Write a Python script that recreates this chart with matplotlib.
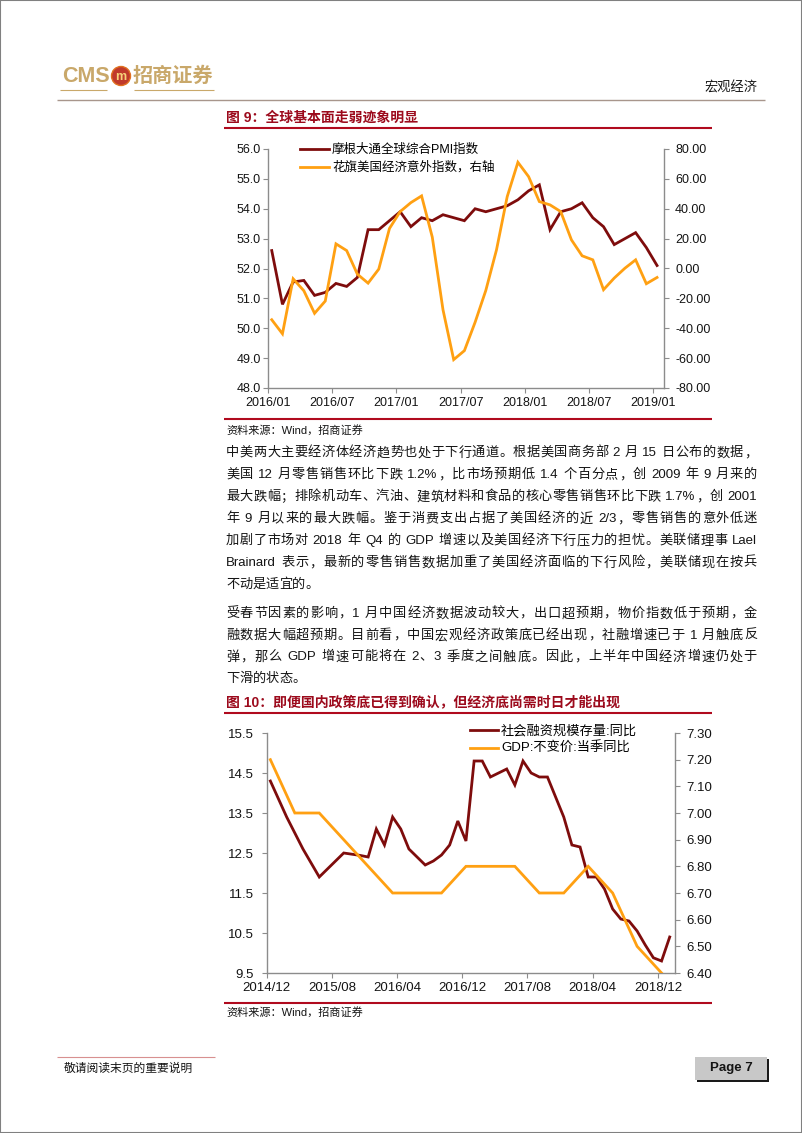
import re
import matplotlib
matplotlib.use('Agg')
import matplotlib.pyplot as plt
from matplotlib.lines import Line2D
from matplotlib.patches import Rectangle, Ellipse
from matplotlib.ticker import FormatStrFormatter, FixedLocator

# ---------------- data ----------------
pmi_labels = ['2016/01', '2016/07', '2017/01', '2017/07', '2018/01', '2018/07', '2019/01']
pmi = [52.6, 50.8, 51.55, 51.6, 51.1, 51.2, 51.5, 51.4, 51.7, 53.3, 53.3, 53.6, 53.9,
       53.4, 53.7, 53.6, 53.8, 53.7, 53.6, 54.0, 53.9, 54.0, 54.1, 54.3, 54.6, 54.8,
       53.3, 53.9, 54.0, 54.2, 53.7, 53.4, 52.8, 53.0, 53.2, 52.7, 52.1]
citi = [-34.3, -43.7, -6.9, -14.9, -30.0, -21.8, 16.5, 12.0, -3.8, -9.8, -0.4, 26.8, 38.1,
        44.1, 48.6, 21.0, -27.6, -61.0, -55.0, -36.0, -14.7, 12.5, 48.1, 71.1, 61.5, 44.8,
        42.6, 38.1, 19.2, 8.5, 5.8, -14.2, -6.4, 0.2, 5.8, -10.2, -6.0]
pmi_names = ['摩根大通全球综合PMI指数', '花旗美国经济意外指数，右轴']

sf_labels = ['2014/12', '2015/08', '2016/04', '2016/12', '2017/08', '2018/04', '2018/12']
sf = [14.3, 13.85, 13.4, 13.0, 12.6, 12.25, 11.9, 12.1, 12.3, 12.5, 12.47, 12.44, 12.4,
      13.1, 12.7, 13.4, 13.1, 12.6, 12.4, 12.2, 12.3, 12.45, 12.7, 13.3, 12.8,
      14.8, 14.8, 14.4, 14.5, 14.6, 14.2, 14.8, 14.5, 14.4, 14.4, 13.9, 13.4,
      12.7, 12.65, 11.9, 11.9, 11.6, 11.1, 10.85, 10.8, 10.55, 10.2, 9.88, 9.8, 10.4]
gdp = [7.2, 7.0, 7.0, 6.9, 6.8, 6.7, 6.7, 6.7, 6.8, 6.8, 6.8, 6.7, 6.7, 6.8, 6.7, 6.5, 6.4]
sf_names = ['社会融资规模存量:同比', 'GDP:不变价:当季同比']

para1 = [
    "中美两大主要经济体经济趋势也处于下行通道。根据美国商务部 2 月 15 日公布的数据，",
    "美国 12 月零售销售环比下跌 1.2%，比市场预期低 1.4 个百分点，创 2009 年 9 月来的",
    "最大跌幅；排除机动车、汽油、建筑材料和食品的核心零售销售环比下跌 1.7%，创 2001",
    "年 9 月以来的最大跌幅。鉴于消费支出占据了美国经济的近 2/3，零售销售的意外低迷",
    "加剧了市场对 2018 年 Q4 的 GDP 增速以及美国经济下行压力的担忧。美联储理事 Lael",
    "Brainard 表示，最新的零售销售数据加重了美国经济面临的下行风险，美联储现在按兵",
    "不动是适宜的。",
]
para2 = [
    "受春节因素的影响，1 月中国经济数据波动较大，出口超预期，物价指数低于预期，金",
    "融数据大幅超预期。目前看，中国宏观经济政策底已经出现，社融增速已于 1 月触底反",
    "弹，那么 GDP 增速可能将在 2、3 季度之间触底。因此，上半年中国经济增速仍处于",
    "下滑的状态。",
]

# ---------------- setup ----------------
W, H = 802, 1133
FAM = ['Liberation Sans', 'Noto Sans CJK SC']
plt.rcParams['font.family'] = FAM
fig = plt.figure(figsize=(W / 100, H / 100), dpi=100)
fig.patch.set_facecolor('white')
renderer = fig.canvas.get_renderer()

DARK = '#7E0C0C'
ORANGE = '#FFA012'
RED = '#B00A1E'
TITLE = '#9C0A1C'
SPINE = '#8C8C8C'
TXT = '#141414'
TAN = '#C9A86A'


def fx(x):
    return x / W


def fy(y):
    return 1 - y / H


def ftext(x, y, s, size, color=TXT, ha='left', va='center', weight='normal'):
    return fig.text(fx(x), fy(y), s, fontsize=size, color=color, ha=ha, va=va,
                    fontweight=weight, family=FAM)


def hline(x0, x1, y, color, lw):
    fig.add_artist(Line2D([fx(x0), fx(x1)], [fy(y), fy(y)], transform=fig.transFigure,
                          color=color, lw=lw, solid_capstyle='butt'))


def justified(line, x0, x1, y, size, justify=True):
    toks = re.findall(r'[A-Za-z0-9.%/]+| |\S', line)
    objs, widths = [], []
    for t in toks:
        if t == ' ':
            objs.append(None)
            widths.append(size * 100 / 72 * 0.28)
        else:
            o = fig.text(0, fy(y), t, fontsize=size, family=FAM, va='center', ha='left', color=TXT)
            objs.append(o)
            widths.append(o.get_window_extent(renderer).width)
    n = len(toks)
    gap = ((x1 - x0) - sum(widths)) / (n - 1) if (justify and n > 1) else 0.0
    x = x0
    for o, w in zip(objs, widths):
        if o is not None:
            o.set_x(fx(x))
        x += w + gap


# ---------------- page frame / header / footer ----------------
fig.add_artist(Rectangle((0, 0), 1, 1, transform=fig.transFigure, fill=False,
                         edgecolor='#808080', lw=1.5))
ftext(62, 77, 'CMS', 15.5, color=TAN, weight='bold')
fig.add_artist(Ellipse((fx(121), fy(76)), 19 / W, 19 / H, transform=fig.transFigure,
                       facecolor='#C0392B', edgecolor='#E07020', lw=1))
ftext(121, 76.5, 'm', 9, color='#F6D37A', ha='center', weight='bold')
ftext(133, 76, '招商证券', 14.5, color=TAN, weight='bold')
hline(60, 107, 90, TAN, 0.8)
hline(134, 214, 90, TAN, 0.8)
ftext(757, 88, '宏观经济', 9.5, ha='right')
hline(57, 765, 100, '#A8968C', 1.0)

hline(57, 215, 1057, '#D89090', 0.8)
ftext(64, 1069, '敬请阅读末页的重要说明', 8.5)
fig.add_artist(Rectangle((fx(697), fy(1082)), 72 / W, 23 / H, transform=fig.transFigure,
                         facecolor='#1a1a1a', edgecolor='none'))
fig.add_artist(Rectangle((fx(695), fy(1080)), 72 / W, 23 / H, transform=fig.transFigure,
                         facecolor='#C8C8C8', edgecolor='none'))
ftext(731, 1068.5, 'Page 7', 9.5, ha='center', weight='bold')

# ---------------- chart 1 ----------------
ftext(226, 118, '图 9：全球基本面走弱迹象明显', 10, color=TITLE, weight='bold')
hline(224, 712, 128, RED, 1.5)


def style_axes(ax, axr, lsize):
    for a in (ax, axr):
        a.set_facecolor('none')
        a.spines['top'].set_visible(False)
        for s in ('left', 'right', 'bottom'):
            a.spines[s].set_color(SPINE)
            a.spines[s].set_linewidth(1.0)
    ax.spines['right'].set_visible(False)
    axr.spines['left'].set_visible(False)
    axr.spines['bottom'].set_visible(False)
    ax.tick_params(axis='both', direction='out', length=3.5, width=0.8, color=SPINE,
                   labelsize=lsize, labelcolor=TXT)
    axr.tick_params(axis='y', direction='out', length=3.5, width=0.8, color=SPINE,
                    labelsize=lsize, labelcolor=TXT, pad=4.5)


ax1 = fig.add_axes([fx(268), fy(388), (664 - 268) / W, (388 - 149) / H])
ax1r = ax1.twinx()
x1 = [i + 0.35 for i in range(len(pmi))]
l1, = ax1.plot(x1, pmi, color=DARK, lw=2.0, solid_joinstyle='miter')
l2, = ax1r.plot(x1, citi, color=ORANGE, lw=2.0, solid_joinstyle='miter')
ax1.set_xlim(0, 37)
ax1.set_ylim(48, 56)
ax1r.set_ylim(-80, 80)
ax1.xaxis.set_major_locator(FixedLocator([6 * k for k in range(len(pmi_labels))]))
ax1.set_xticklabels(pmi_labels)
ax1.set_yticks([48 + k for k in range(9)])
ax1.yaxis.set_major_formatter(FormatStrFormatter('%.1f'))
ax1r.set_yticks([-80 + 20 * k for k in range(9)])
ax1r.yaxis.set_major_formatter(FormatStrFormatter('%.2f'))
style_axes(ax1, ax1r, 9)
ax1.tick_params(axis='y', pad=1.5)
ax1.tick_params(axis='x', pad=3)
ax1r.legend([l1, l2], pmi_names, loc='upper left', bbox_to_anchor=(fx(300), fy(144)),
            bbox_transform=fig.transFigure, frameon=False, fontsize=9, borderpad=0,
            borderaxespad=0, handlelength=2.3, handletextpad=0.25, labelspacing=0.42)

hline(224, 712, 419, RED, 1.5)
ftext(226, 430, '资料来源：Wind，招商证券', 8)

# ---------------- body text ----------------
y = 453
for i, line in enumerate(para1):
    justified(line, 226, 757, y, 9.5, justify=(i < len(para1) - 1))
    y += 22
y = 614
for i, line in enumerate(para2):
    justified(line, 226, 757, y, 9.5, justify=(i < len(para2) - 1))
    y += 21.7

# ---------------- chart 2 ----------------
ftext(226, 702, '图 10：即便国内政策底已得到确认，但经济底尚需时日才能出现', 10, color=TITLE, weight='bold')
hline(224, 712, 713, RED, 1.5)

ax2 = fig.add_axes([fx(266.7), fy(973), (675 - 266.7) / W, (973 - 733) / H])
ax2r = ax2.twinx()
x2 = [i + 0.45 for i in range(len(sf))]
xq = [3 * i + 0.45 for i in range(len(gdp))]
m1, = ax2.plot(x2, sf, color=DARK, lw=2.0, solid_joinstyle='miter')
m2, = ax2r.plot(xq, gdp, color=ORANGE, lw=2.0, solid_joinstyle='miter')
ax2.set_xlim(0, 50.1)
ax2.set_ylim(9.5, 15.5)
ax2r.set_ylim(6.4, 7.3)
ax2.xaxis.set_major_locator(FixedLocator([8 * k for k in range(len(sf_labels))]))
ax2.set_xticklabels(sf_labels)
ax2.set_yticks([9.5 + k for k in range(7)])
ax2.yaxis.set_major_formatter(FormatStrFormatter('%.1f'))
ax2r.set_yticks([6.4 + 0.1 * k for k in range(10)])
ax2r.yaxis.set_major_formatter(FormatStrFormatter('%.2f'))
style_axes(ax2, ax2r, 9.5)
ax2.tick_params(axis='y', pad=5.5)
ax2.tick_params(axis='x', pad=3)
ax2r.legend([m1, m2], sf_names, loc='upper left', bbox_to_anchor=(fx(470), fy(725)),
            bbox_transform=fig.transFigure, frameon=False, fontsize=9.5, borderpad=0,
            borderaxespad=0, handlelength=2.1, handletextpad=0.25, labelspacing=0.35)

hline(224, 712, 1003, RED, 1.5)
ftext(226, 1012, '资料来源：Wind，招商证券', 8)

fig.savefig('out.png', dpi=100, facecolor='white')
